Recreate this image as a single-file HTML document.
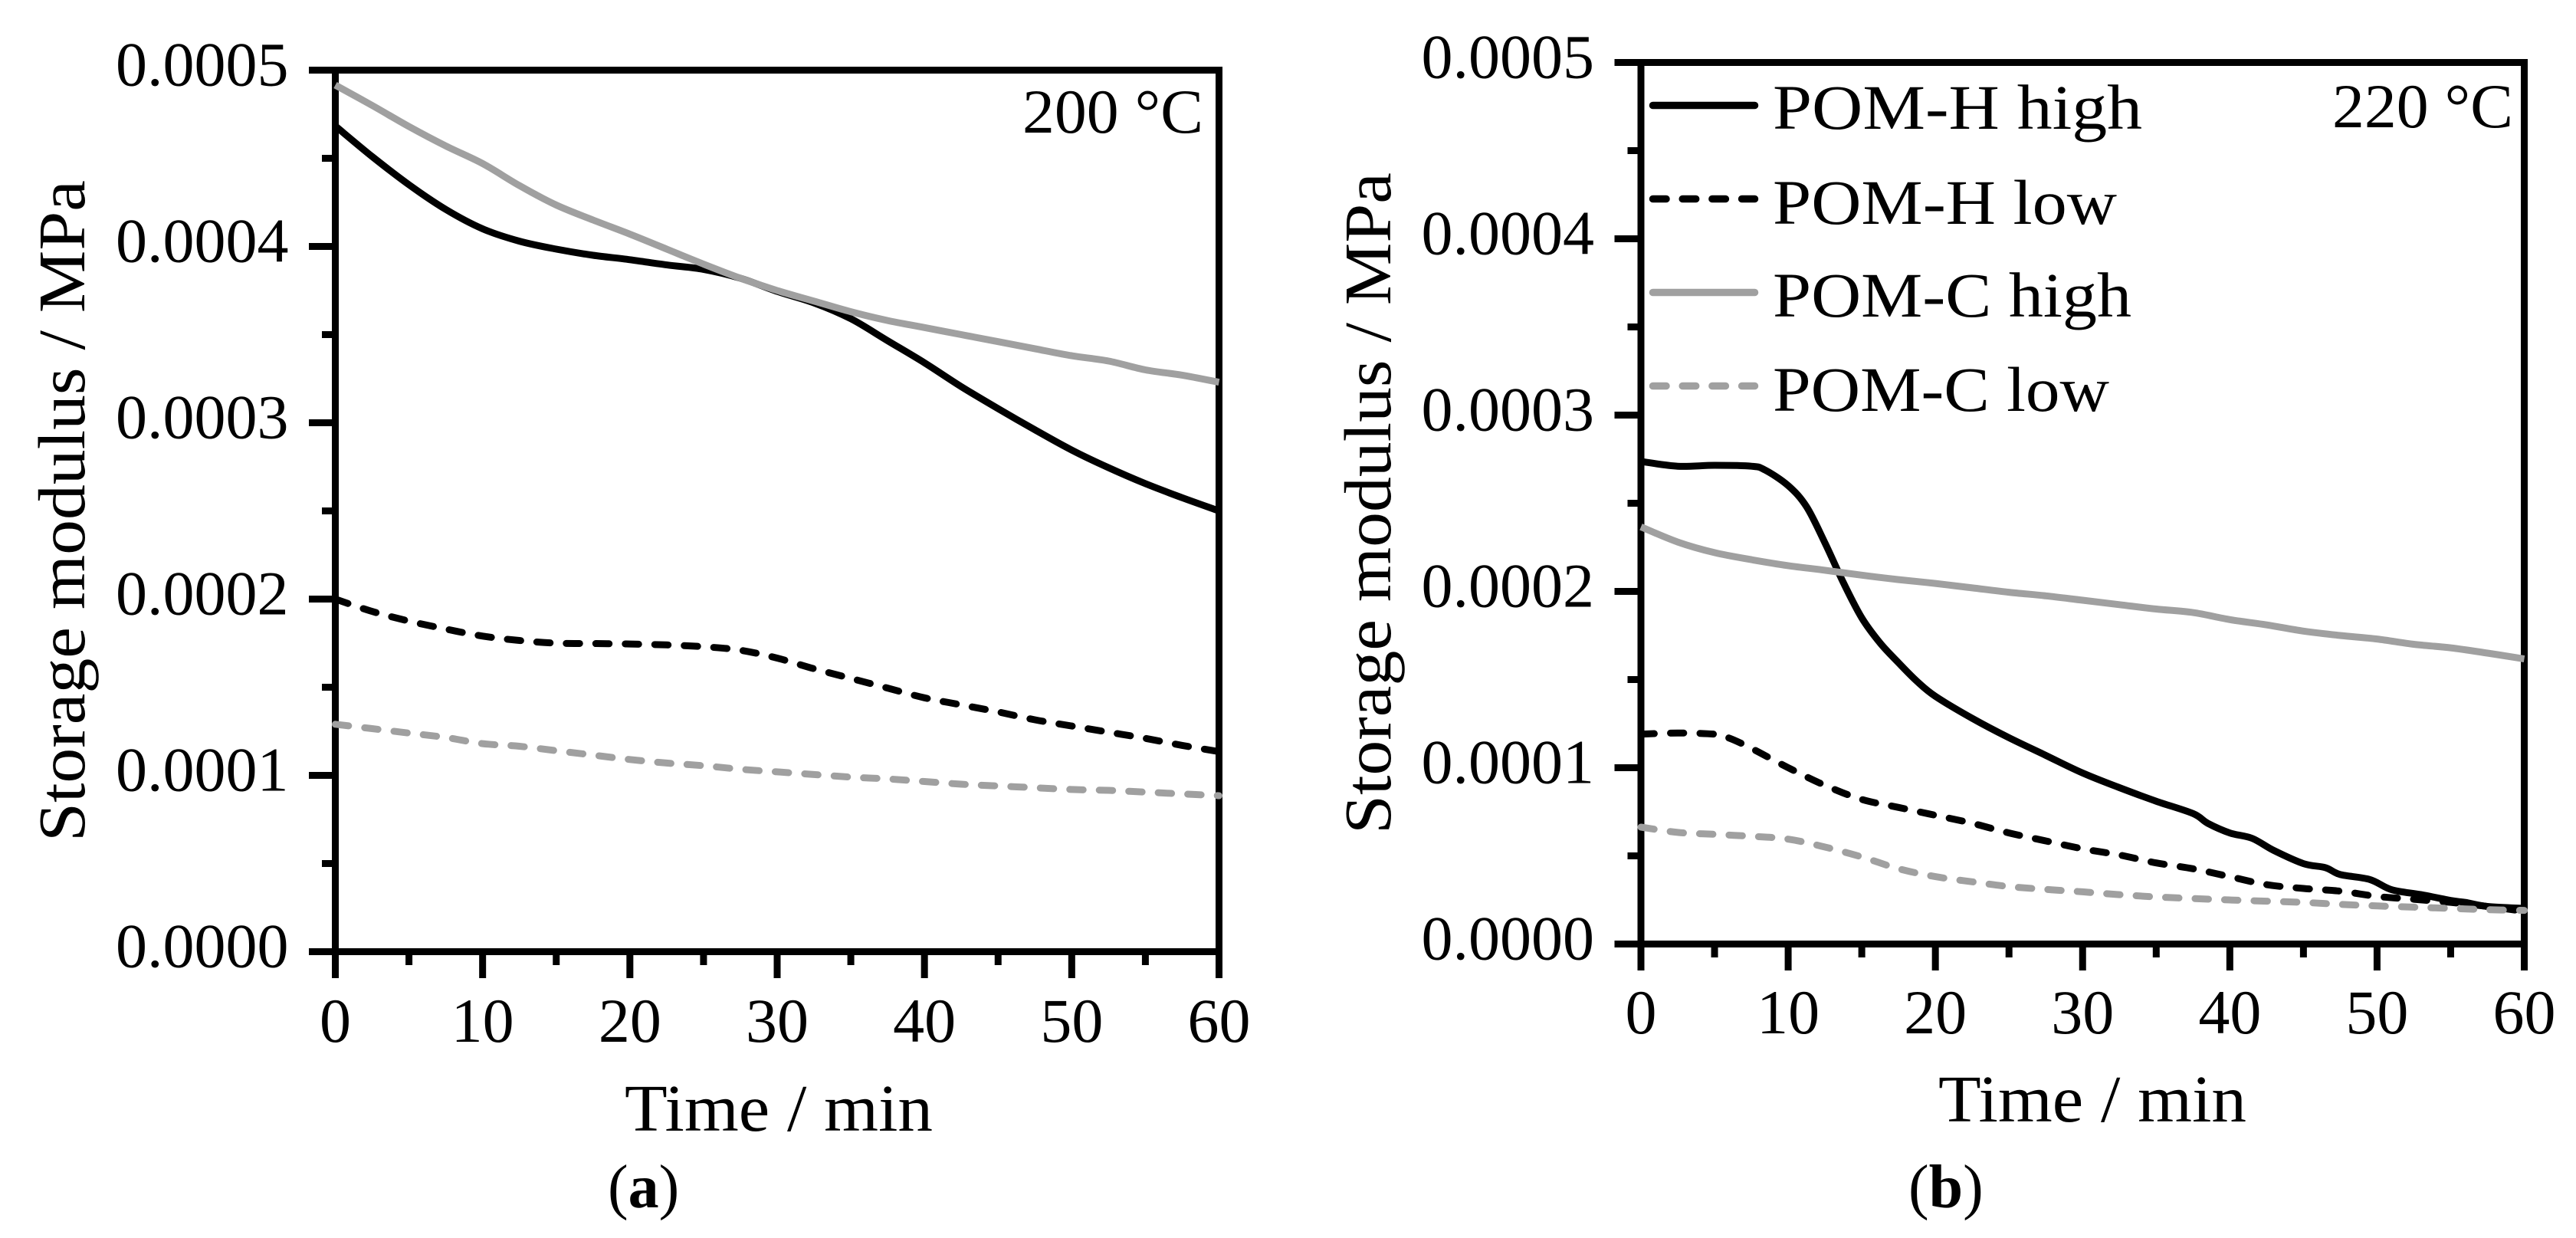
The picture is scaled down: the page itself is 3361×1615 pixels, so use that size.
<!DOCTYPE html>
<html lang="en">
<head>
<meta charset="utf-8">
<title>Storage modulus vs time</title>
<style>
html,body{margin:0;padding:0;background:#fff;width:3361px;height:1615px;overflow:hidden}
svg{display:block}
text{font-family:"Liberation Serif",serif;fill:#000}
</style>
</head>
<body>
<svg id="figure" xmlns="http://www.w3.org/2000/svg" width="3361" height="1615" viewBox="0 0 3361 1615">
  <rect width="3361" height="1615" fill="#fff"/>
  <g id="panel-a">
    <text transform="translate(110 1098) rotate(-90)" font-size="87" textLength="863" lengthAdjust="spacingAndGlyphs">Storage modulus / MPa</text>
    <text x="815" y="1475" font-size="87" textLength="402" lengthAdjust="spacingAndGlyphs">Time / min</text>
    <text x="1334" y="173" font-size="82" textLength="236" lengthAdjust="spacingAndGlyphs">200 °C</text>
    <text x="793" y="1575" font-size="80">(<tspan font-weight="bold">a</tspan>)</text>
  </g>
  <g id="panel-b">
    <text transform="translate(1814 1088) rotate(-90)" font-size="87" textLength="863" lengthAdjust="spacingAndGlyphs">Storage modulus / MPa</text>
    <text x="2529" y="1463" font-size="87" textLength="402" lengthAdjust="spacingAndGlyphs">Time / min</text>
    <text x="3043" y="166" font-size="82" textLength="236" lengthAdjust="spacingAndGlyphs">220 °C</text>
    <text x="2490" y="1575" font-size="80">(<tspan font-weight="bold">b</tspan>)</text>
    <g>
      <line x1="2156.5" x2="2289.5" y1="137.5" y2="137.5" stroke="#000" stroke-width="9.5" stroke-linecap="round"/>
      <text x="2313" y="168" font-size="83" textLength="482" lengthAdjust="spacingAndGlyphs">POM-H high</text>
      <line x1="2156.5" x2="2289.5" y1="259.5" y2="259.5" stroke="#000" stroke-width="9.5" stroke-linecap="round" stroke-dasharray="17.5 21.2"/>
      <text x="2313" y="292" font-size="83" textLength="449" lengthAdjust="spacingAndGlyphs">POM-H low</text>
      <line x1="2156.5" x2="2289.5" y1="381.5" y2="381.5" stroke="#a0a0a0" stroke-width="9.5" stroke-linecap="round"/>
      <text x="2313" y="413" font-size="83" textLength="468" lengthAdjust="spacingAndGlyphs">POM-C high</text>
      <line x1="2156.5" x2="2289.5" y1="503.5" y2="503.5" stroke="#a0a0a0" stroke-width="9.5" stroke-linecap="round" stroke-dasharray="17.5 21.2"/>
      <text x="2313" y="536" font-size="83" textLength="439" lengthAdjust="spacingAndGlyphs">POM-C low</text>
    </g>
  </g>
</svg>
<script>
// Values are in units of 1e-4 MPa; times in minutes.
const xMajorTicks = [0, 10, 20, 30, 40, 50, 60];
const xMinorTicks = [5, 15, 25, 35, 45, 55];
const xTickLabels = ['0', '10', '20', '30', '40', '50', '60'];
const yMajorTicks = [0, 1, 2, 3, 4, 5];
const yMinorTicks = [0.5, 1.5, 2.5, 3.5, 4.5];
const yTickLabels = ['0.0000', '0.0001', '0.0002', '0.0003', '0.0004', '0.0005'];

const timesRegular = [0, 2.5, 5, 7.5, 10, 12.5, 15, 17.5, 20, 22.5, 25, 27.5, 30, 32.5, 35, 37.5, 40, 42.5, 45, 47.5, 50, 52.5, 55, 57.5, 60];

const aPomHHigh = [4.683, 4.51, 4.35, 4.21, 4.10, 4.03, 3.985, 3.95, 3.925, 3.895, 3.87, 3.82, 3.745, 3.68, 3.59, 3.465, 3.34, 3.205, 3.08, 2.96, 2.845, 2.745, 2.655, 2.575, 2.50];
const aPomHLow = [2.00, 1.93, 1.875, 1.83, 1.79, 1.765, 1.75, 1.748, 1.745, 1.74, 1.73, 1.71, 1.665, 1.605, 1.55, 1.495, 1.44, 1.40, 1.36, 1.315, 1.28, 1.245, 1.21, 1.17, 1.135];
const aPomCHigh = [4.915, 4.80, 4.68, 4.57, 4.47, 4.345, 4.235, 4.15, 4.07, 3.985, 3.90, 3.82, 3.75, 3.69, 3.63, 3.58, 3.54, 3.50, 3.46, 3.42, 3.38, 3.35, 3.30, 3.27, 3.23];
const aPomCLow = [1.29, 1.265, 1.24, 1.215, 1.18, 1.165, 1.14, 1.115, 1.09, 1.07, 1.055, 1.035, 1.02, 1.005, 0.99, 0.98, 0.965, 0.95, 0.94, 0.93, 0.92, 0.915, 0.905, 0.895, 0.885];

const bHighTimes = [0, 2.5, 5, 7.5, 8.4, 10, 11.25, 12.5, 13.75, 15, 16.25, 17.5, 18.75, 20, 22.5, 25, 27.5, 30, 32.5, 35, 37.5, 38.5, 40, 41.5, 43, 45, 46.5, 47.5, 49.5, 51, 53, 55, 56, 57.5, 60];
const bPomHHigh = [2.737, 2.71, 2.715, 2.71, 2.69, 2.60, 2.48, 2.275, 2.05, 1.85, 1.707, 1.595, 1.49, 1.405, 1.28, 1.17, 1.07, 0.97, 0.887, 0.81, 0.74, 0.685, 0.63, 0.60, 0.53, 0.456, 0.433, 0.394, 0.366, 0.308, 0.28, 0.247, 0.236, 0.213, 0.202];
const bLowTimes = [0, 2.5, 5, 6, 7.5, 10, 12.5, 15, 17.5, 20, 22.5, 25, 27.5, 30, 32.5, 35, 37.5, 40, 42.5, 45, 47.5, 50, 52.5, 55, 57.5, 60];
const bPomHLow = [1.19, 1.197, 1.19, 1.168, 1.11, 1.00, 0.90, 0.82, 0.775, 0.73, 0.685, 0.63, 0.585, 0.54, 0.505, 0.46, 0.427, 0.382, 0.337, 0.315, 0.30, 0.27, 0.254, 0.236, 0.213, 0.186];
const bPomCHigh = [2.366, 2.28, 2.22, 2.18, 2.146, 2.12, 2.092, 2.067, 2.045, 2.02, 1.995, 1.975, 1.95, 1.925, 1.90, 1.88, 1.84, 1.81, 1.775, 1.75, 1.73, 1.70, 1.68, 1.65, 1.617];
const bPomCLow = [0.663, 0.633, 0.622, 0.611, 0.595, 0.55, 0.494, 0.427, 0.382, 0.353, 0.326, 0.31, 0.296, 0.28, 0.267, 0.258, 0.25, 0.243, 0.236, 0.225, 0.216, 0.209, 0.202, 0.195, 0.191];

const NS = 'http://www.w3.org/2000/svg';
const GRAY = '#a0a0a0';

function lineEl(parent, name, x1, y1, x2, y2, w) {
  const el = document.createElementNS(NS, 'line');
  
  
  el.setAttribute('x1', x1);
  el.setAttribute('y1', y1);
  el.setAttribute('x2', x2);
  el.setAttribute('y2', y2);
  el.setAttribute('stroke', '#000');
  el.setAttribute('stroke-width', w);
  parent.appendChild(el);
}

function labelEl(parent, name, x, y, anchor, str) {
  const el = document.createElementNS(NS, 'text');
  
  
  el.setAttribute('x', x);
  el.setAttribute('y', y);
  el.setAttribute('text-anchor', anchor);
  el.setAttribute('font-size', '82');
  el.textContent = str;
  parent.appendChild(el);
}

function smoothPath(pts) {
  let d = 'M' + pts[0][0].toFixed(1) + ' ' + pts[0][1].toFixed(1);
  for (let i = 0; i < pts.length - 1; i++) {
    const p0 = pts[Math.max(i - 1, 0)];
    const p1 = pts[i];
    const p2 = pts[i + 1];
    const p3 = pts[Math.min(i + 2, pts.length - 1)];
    const c1x = p1[0] + (p2[0] - p0[0]) / 6;
    const c1y = p1[1] + (p2[1] - p0[1]) / 6;
    const c2x = p2[0] - (p3[0] - p1[0]) / 6;
    const c2y = p2[1] - (p3[1] - p1[1]) / 6;
    d += 'C' + c1x.toFixed(1) + ' ' + c1y.toFixed(1) + ' ' + c2x.toFixed(1) + ' ' + c2y.toFixed(1) + ' ' + p2[0].toFixed(1) + ' ' + p2[1].toFixed(1);
  }
  return d;
}

function drawPanel(id, suffix, x0, x1, yTop, yBot, xLabelBase, series) {
  const root = document.getElementById(id);
  const sx = t => x0 + (x1 - x0) * t / 60;
  const sy = v => yBot - (yBot - yTop) * v / 5;

  lineEl(root, 'frame-left-' + suffix, x0, yTop - 4.5, x0, yBot + 4.5, 9);
  lineEl(root, 'frame-right-' + suffix, x1, yTop - 4.5, x1, yBot + 4.5, 9);
  lineEl(root, 'frame-top-' + suffix, x0, yTop, x1 + 4.5, yTop, 9);
  lineEl(root, 'frame-bottom-' + suffix, x0, yBot, x1 + 4.5, yBot, 9);

  yMajorTicks.forEach((v, i) => {
    lineEl(root, 'y-major-tick-' + suffix, x0 - 34.5, sy(v), x0, sy(v), 9);
    labelEl(root, 'y-tick-label-' + suffix, x0 - 61, sy(v) + 20, 'end', yTickLabels[i]);
  });
  yMinorTicks.forEach(v => {
    lineEl(root, 'y-minor-tick-' + suffix, x0 - 17.5, sy(v), x0, sy(v), 9);
  });
  xMajorTicks.forEach((t, i) => {
    lineEl(root, 'x-major-tick-' + suffix, sx(t), yBot, sx(t), yBot + 34.5, 9);
    labelEl(root, 'x-tick-label-' + suffix, sx(t), xLabelBase, 'middle', xTickLabels[i]);
  });
  xMinorTicks.forEach(t => {
    lineEl(root, 'x-minor-tick-' + suffix, sx(t), yBot, sx(t), yBot + 17.5, 9);
  });

  series.forEach(s => {
    const p = document.createElementNS(NS, 'path');
    
    
    p.setAttribute('d', smoothPath(s.y.map((v, i) => [sx(s.t[i]), sy(v)])));
    p.setAttribute('fill', 'none');
    p.setAttribute('stroke', s.color);
    p.setAttribute('stroke-width', '9');
    p.setAttribute('stroke-linejoin', 'round');
    if (s.dash) {
      p.setAttribute('stroke-dasharray', '17.5 21');
      p.setAttribute('stroke-linecap', 'round');
    }
    root.appendChild(p);
  });
}

drawPanel('panel-a', 'a', 437.5, 1590.5, 91.5, 1241.5, 1359, [
  { name: 'pom-h-high', t: timesRegular, y: aPomHHigh, color: '#000', dash: false },
  { name: 'pom-h-low', t: timesRegular, y: aPomHLow, color: '#000', dash: true },
  { name: 'pom-c-high', t: timesRegular, y: aPomCHigh, color: GRAY, dash: false },
  { name: 'pom-c-low', t: timesRegular, y: aPomCLow, color: GRAY, dash: true }
]);
drawPanel('panel-b', 'b', 2141, 3293.5, 81.5, 1231.5, 1348, [
  { name: 'pom-h-high', t: bHighTimes, y: bPomHHigh, color: '#000', dash: false },
  { name: 'pom-h-low', t: bLowTimes, y: bPomHLow, color: '#000', dash: true },
  { name: 'pom-c-high', t: timesRegular, y: bPomCHigh, color: GRAY, dash: false },
  { name: 'pom-c-low', t: timesRegular, y: bPomCLow, color: GRAY, dash: true }
]);
</script>
</body>
</html>
